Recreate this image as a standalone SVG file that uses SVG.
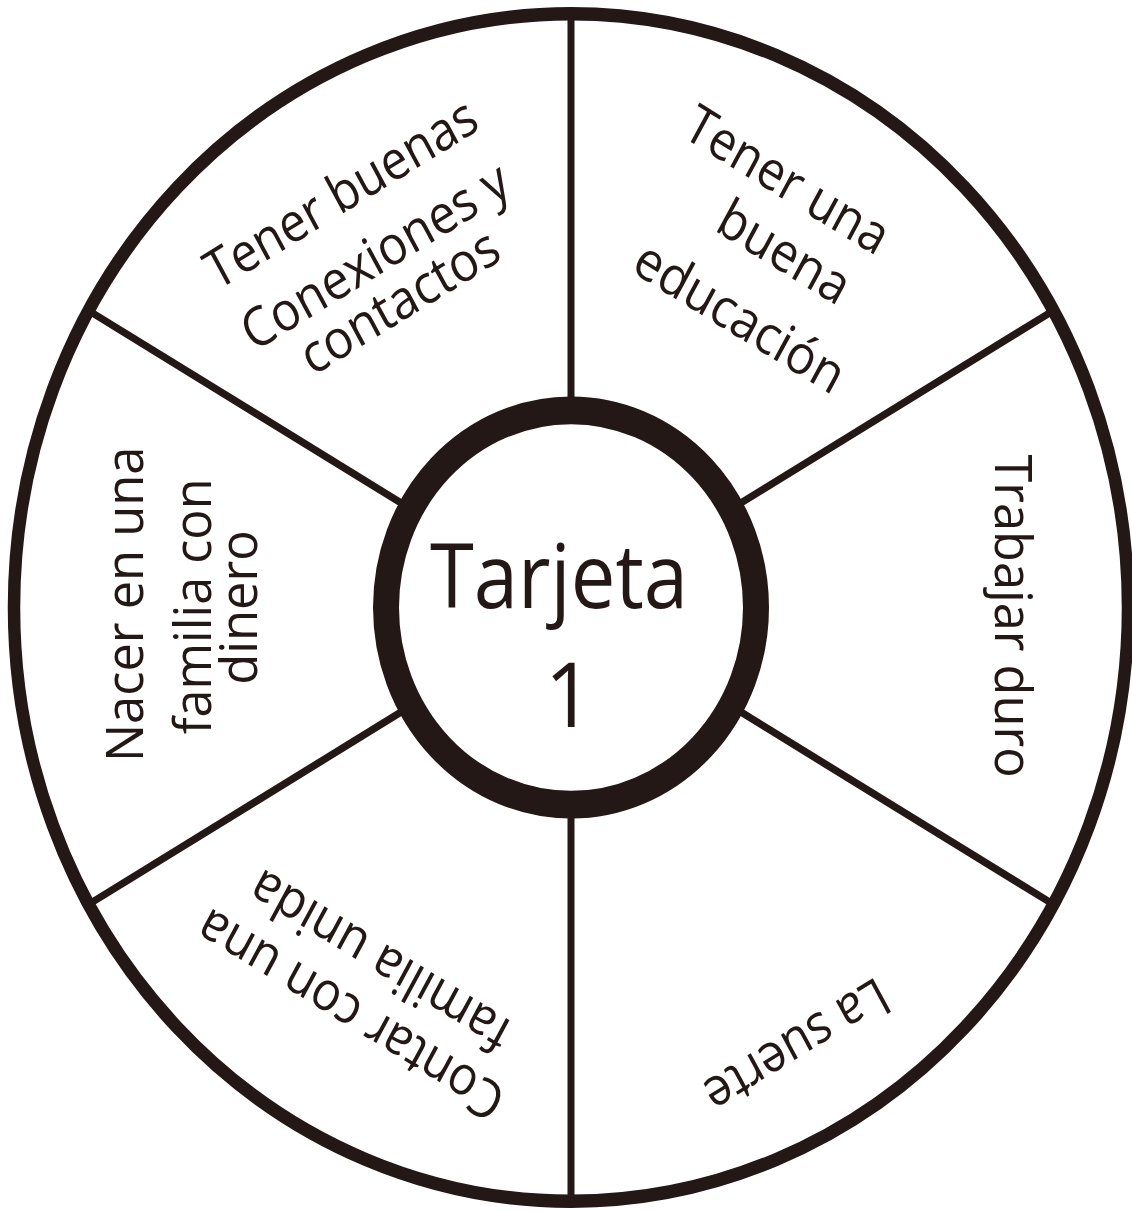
<svg xmlns="http://www.w3.org/2000/svg" width="1132" height="1212" viewBox="0 0 1132 1212">
<style>
.rim{fill:none;stroke:#231815;stroke-width:12.5}
.hub{fill:#fff;stroke:#231815;stroke-width:26}
.spoke{fill:none;stroke:#231815;stroke-width:7}
.lbl{font-family:"Open Sans","Liberation Sans",sans-serif;font-size:51px;fill:#231815;text-anchor:middle}
.big{font-size:85px}
</style>
<rect width="1132" height="1212" fill="#fff"/>
<g transform="translate(571 607.5) scale(1 1.066)">
  <circle id="rim" class="rim" r="557"/>
  <g id="connectors">
    <line class="spoke" x1="0" y1="-185" x2="0" y2="-557"/>
    <line class="spoke" x1="160.2" y1="-92.5" x2="482.4" y2="-278.5"/>
    <line class="spoke" x1="160.2" y1="92.5" x2="482.4" y2="278.5"/>
    <line class="spoke" x1="0" y1="185" x2="0" y2="557"/>
    <line class="spoke" x1="-160.2" y1="92.5" x2="-482.4" y2="278.5"/>
    <line class="spoke" x1="-160.2" y1="-92.5" x2="-482.4" y2="-278.5"/>
  </g>
  <g id="hub">
    <circle class="hub" r="185"/>
    <text class="lbl big" x="-12" y="0" textLength="258" lengthAdjust="spacingAndGlyphs">Tarjeta</text>
    <text class="lbl big" x="-2" y="112">1</text>
  </g>
  <g id="sector-educacion" transform="rotate(30)">
    <text class="lbl" x="-13" y="-438" textLength="226" lengthAdjust="spacingAndGlyphs">Tener una</text>
    <text class="lbl" x="18" y="-378" textLength="144" lengthAdjust="spacingAndGlyphs">buena</text>
    <text class="lbl" x="10" y="-303" textLength="234" lengthAdjust="spacingAndGlyphs">educación</text>
  </g>
  <g id="sector-conexiones" transform="rotate(-30)">
    <text class="lbl" x="-5" y="-434" textLength="305" lengthAdjust="spacingAndGlyphs">Tener buenas</text>
    <text class="lbl" x="-5" y="-366" textLength="300" lengthAdjust="spacingAndGlyphs">Conexiones y</text>
    <text class="lbl" x="-5" y="-317" textLength="221" lengthAdjust="spacingAndGlyphs">contactos</text>
  </g>
  <g id="sector-nacer" transform="rotate(-90)">
    <text class="lbl" x="3" y="-428" textLength="296" lengthAdjust="spacingAndGlyphs">Nacer en una</text>
    <text class="lbl" x="1" y="-360" textLength="240" lengthAdjust="spacingAndGlyphs">familia con</text>
    <text class="lbl" x="0" y="-314" textLength="145" lengthAdjust="spacingAndGlyphs">dinero</text>
  </g>
  <g id="sector-trabajar" transform="rotate(90)">
    <text class="lbl" x="8" y="-424" textLength="303" lengthAdjust="spacingAndGlyphs">Trabajar duro</text>
  </g>
  <g id="sector-suerte" transform="rotate(150)">
    <text class="lbl" x="10" y="-452" textLength="204" lengthAdjust="spacingAndGlyphs">La suerte</text>
  </g>
  <g id="sector-familia" transform="rotate(210)">
    <text class="lbl" x="0" y="-424" textLength="345" lengthAdjust="spacingAndGlyphs">Contar con una</text>
    <text class="lbl" x="0" y="-366" textLength="291" lengthAdjust="spacingAndGlyphs">familia unida</text>
  </g>
</g>
</svg>
